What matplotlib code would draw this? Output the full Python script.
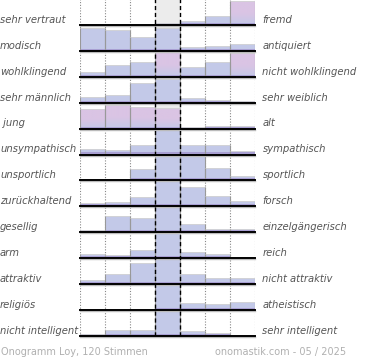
import numpy as np
import matplotlib
matplotlib.use("Agg")
import matplotlib.pyplot as plt
from matplotlib.patches import Rectangle

left_labels = ["sehr vertraut", "modisch", "wohlklingend", "sehr männlich", " jung",
               "unsympathisch", "unsportlich", "zurückhaltend", "gesellig", "arm",
               "attraktiv", "religiös", "nicht intelligent"]
right_labels = ["fremd", "antiquiert", "nicht wohlklingend", "sehr weiblich", "alt",
                "sympathisch", "sportlich", "forsch", "einzelgängerisch", "reich",
                "nicht attraktiv", "atheistisch", "sehr intelligent"]

# bar heights per row, in percent of the row height (7 steps)
values = [
    [0, 0, 0, 6, 14, 35, 92],
    [87, 82, 53, 90, 13, 20, 26],
    [20, 45, 58, 95, 37, 58, 92],
    [22, 30, 77, 92, 18, 12, 5],
    [76, 93, 85, 78, 6, 9, 9],
    [23, 19, 35, 96, 37, 37, 14],
    [6, 6, 46, 96, 96, 49, 17],
    [12, 18, 36, 96, 74, 40, 19],
    [8, 63, 54, 96, 32, 12, 12],
    [17, 13, 33, 96, 24, 15, 5],
    [15, 41, 81, 96, 41, 24, 24],
    [5, 5, 0, 96, 27, 23, 31],
    [9, 24, 24, 96, 20, 13, 0],
]
# bars drawn with the pink tint
pink = [
    [0, 0, 0, 0, 0, 0, 1],
    [0] * 7,
    [0, 0, 0, 1, 0, 0, 1],
    [0] * 7,
    [1, 1, 1, 1, 0, 0, 0],
] + [[0] * 7] * 8

footer_left = "Onogramm Loy, 120 Stimmen"
footer_right = "onomastik.com - 05 / 2025"

W, H = 370, 360
fig = plt.figure(figsize=(W / 100, H / 100), dpi=100)
ax = fig.add_axes([79.5 / W, 24 / H, 175 / W, 337 / H])
ax.set_xlim(0, 7)
ax.set_ylim(0, 13)
ax.axis("off")

n = len(values)
blue = np.array(matplotlib.colors.to_rgb("#c3c9e8"))
pinkc = np.array(matplotlib.colors.to_rgb("#dac4e4"))

ax.axvspan(3, 4, color="#ececec", zorder=0, lw=0)
for x in [0, 1, 2, 5, 6, 7]:
    ax.axvline(x, color="#888888", lw=0.8, ls=(0, (1, 1.5)), zorder=1)

for i in range(n):
    base = n - 1 - i
    for j, v in enumerate(values[i]):
        h = v / 100
        if h <= 0:
            continue
        rect = Rectangle((j, base), 1, h, facecolor="none", edgecolor="none")
        ax.add_patch(rect)
        if pink[i][j]:
            t = np.clip(np.linspace(0, 1, 50) * 2, 0, 1)[:, None, None]
            grad = blue[None, None, :] * (1 - t) + pinkc[None, None, :] * t
            im = ax.imshow(grad, extent=(j, j + 1, base, base + h), origin="lower",
                           aspect="auto", zorder=2, interpolation="bilinear")
            im.set_clip_path(rect)
        else:
            ax.add_patch(Rectangle((j, base), 1, h, facecolor=blue, lw=0, zorder=2))
        band = min(h, 0.08)
        ax.add_patch(Rectangle((j, base), 1, band, facecolor="#a59bd0", lw=0,
                               zorder=3, alpha=0.9))
        ax.plot([j, j + 1], [base + h, base + h], color="#d4d4d4", lw=0.6, zorder=3)
        ax.vlines([j, j + 1], base, base + h, color="#999999", lw=0.8, zorder=3)
    ax.plot([0, 7], [base - 0.04, base - 0.04], color="#bbbbbb", lw=1.0, zorder=4,
            clip_on=False)
    ax.plot([0, 7], [base, base], color="black", lw=1.4, zorder=5, clip_on=False)
    ax.text(-79.5 / 25, base + 0.2, left_labels[i], ha="left", va="center",
            fontsize=7.2, style="italic", color="#555555")
    ax.text(7 + 8 / 25, base + 0.2, right_labels[i], ha="left", va="center",
            fontsize=7.2, style="italic", color="#555555")

for x in [3, 4]:
    ax.axvline(x, color="black", lw=1.0, ls=(0, (3, 2)), zorder=6)

fig.text(1 / W, 1 - 352 / H, footer_left, ha="left", va="center",
         fontsize=7, color="#b0b0b0")
fig.text(346 / W, 1 - 352 / H, footer_right, ha="right", va="center",
         fontsize=7, color="#b0b0b0")

fig.savefig("out.png", dpi=100)
